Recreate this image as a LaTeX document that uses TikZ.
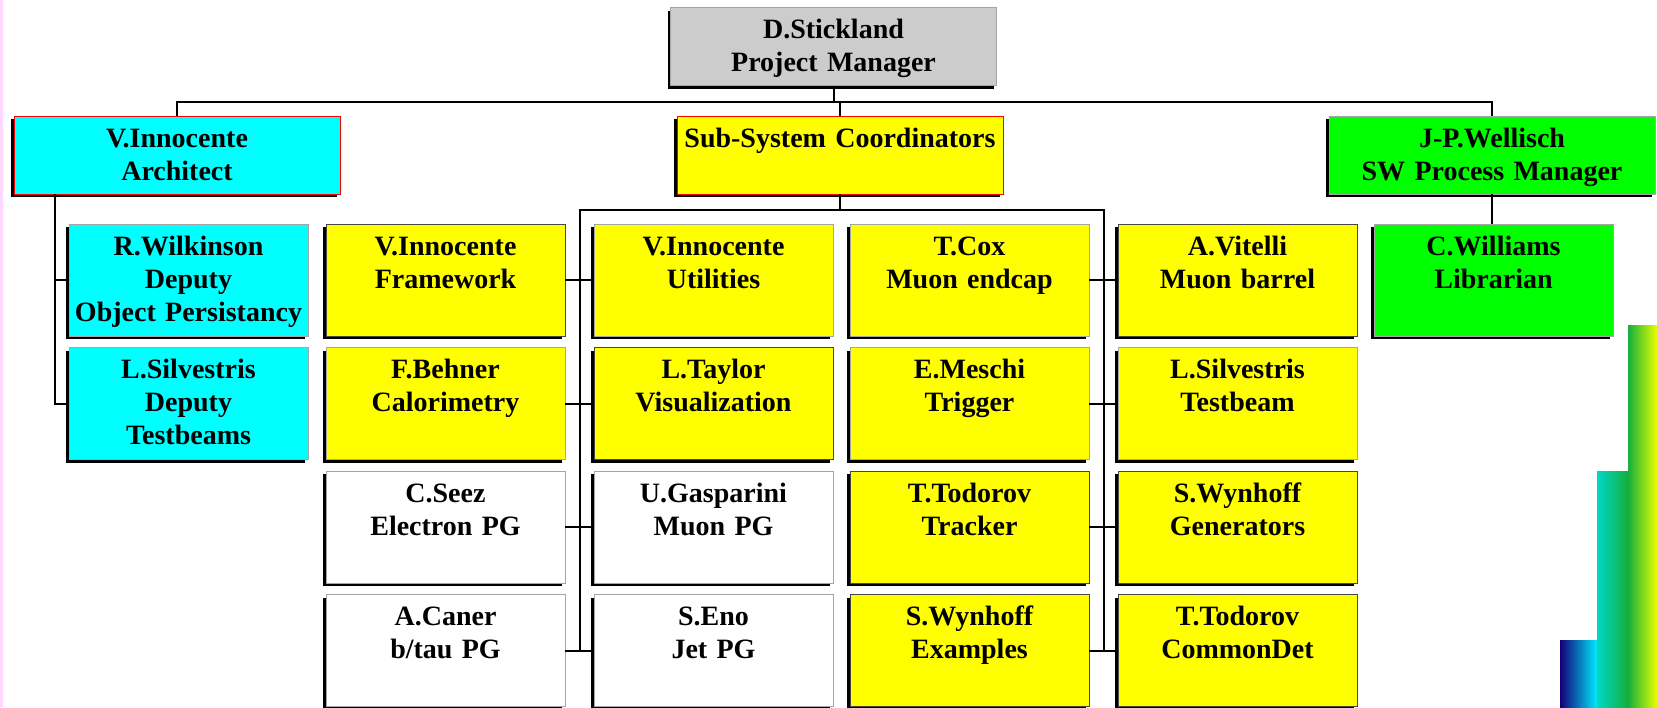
\documentclass[tikz,border=0pt]{standalone}
\usepackage{fontspec}
\setmainfont{Liberation Serif}
\usepackage{xcolor}
\usetikzlibrary{positioning, calc, shadows}
\definecolor{OrgCyan}{RGB}{0, 255, 255}
\definecolor{OrgYellow}{RGB}{255, 255, 0}
\definecolor{OrgGreen}{RGB}{0, 255, 0}
\definecolor{OrgGrey}{RGB}{204, 204, 204}
\definecolor{EdgeLight}{RGB}{165, 165, 165}
\definecolor{EdgeDark}{RGB}{70, 70, 70}
\definecolor{EdgeRed}{RGB}{255, 0, 0}
\definecolor{EdgePink}{RGB}{255, 215, 255}
\definecolor{BarNavy}{RGB}{20, 0, 120}
\definecolor{BarCyan}{RGB}{0, 235, 255}
\definecolor{BarTeal}{RGB}{0, 215, 200}
\definecolor{BarGreen}{RGB}{20, 175, 60}
\definecolor{BarYellow}{RGB}{235, 255, 0}

\begin{document}
\begin{tikzpicture}[
    x=1pt, y=-1pt,
    node distance=11.5pt and 29pt,
    font=\fontsize{28}{33}\selectfont\bfseries,
    % Styles - boxes carry a black shadow to the lower left
    head/.style={rectangle, draw=EdgeLight, line width=0.8pt, outer sep=0pt, fill=white, minimum width=326pt, text width=318pt, inner sep=4pt, text height=27pt, text depth=43pt, align=center, drop shadow={opacity=1, fill=black, shadow xshift=-3pt, shadow yshift=-3pt}},
    unit/.style={rectangle, draw=EdgeLight, line width=0.8pt, outer sep=0pt, fill=white, minimum width=239pt, text width=231pt, inner sep=4pt, text height=27pt, text depth=77pt, align=center, drop shadow={opacity=1, fill=black, shadow xshift=-3pt, shadow yshift=-3pt}},
    link/.style={line width=2pt, color=black}
]

\fill[white] (0,0) rectangle (1657,707);
\useasboundingbox (0,0) rectangle (1657,707);
\fill[EdgePink] (0,0) rectangle (3,707);

% ==========================================================================================
% MANAGEMENT (Top)
% ==========================================================================================

\node[head, fill=OrgGrey] (stickland) at (833.5,46.5) {D.Stickland\\Project Manager};
\node[head, fill=OrgCyan, draw=EdgeRed] (architect) at (177,155) {V.Innocente\\Architect};
\node[head, fill=OrgYellow, draw=EdgeRed] (coord) at (840,155) {Sub-System Coordinators};
\node[head, fill=OrgGreen] (wellisch) at (1492,155) {J-P.Wellisch\\SW Process Manager};

% ==========================================================================================
% SUB-SYSTEMS (Grid)
% ==========================================================================================

% Row 1
\node[unit, fill=OrgYellow, draw=EdgeDark] (frame) at (445.5,280) {V.Innocente\\Framework};
\node[unit, fill=OrgYellow, right=29pt of frame] (util) {V.Innocente\\Utilities};
\node[unit, fill=OrgYellow, right=17pt of util] (cox) {T.Cox\\Muon endcap};
\node[unit, fill=OrgYellow, draw=EdgeDark, right=29pt of cox] (vitelli) {A.Vitelli\\Muon barrel};
\node[unit, fill=OrgGreen, right=17pt of vitelli] (williams) {C.Williams\\Librarian};
\node[unit, fill=OrgCyan, left=18pt of frame] (wilkinson) {R.Wilkinson\\Deputy\\Object Persistancy};

% Row 2
\node[unit, fill=OrgYellow, below=of frame] (behner) {F.Behner\\Calorimetry};
\node[unit, fill=OrgYellow, draw=EdgeDark, below=of util] (taylor) {L.Taylor\\Visualization};
\node[unit, fill=OrgYellow, below=of cox] (meschi) {E.Meschi\\Trigger};
\node[unit, fill=OrgYellow, below=of vitelli] (silvtb) {L.Silvestris\\Testbeam};
\node[unit, fill=OrgCyan, below=of wilkinson] (silvdep) {L.Silvestris\\Deputy\\Testbeams};

% Row 3 - physics groups in white
\node[unit, below=of behner] (seez) {C.Seez\\Electron PG};
\node[unit, below=of taylor] (gasparini) {U.Gasparini\\Muon PG};
\node[unit, fill=OrgYellow, draw=EdgeDark, below=of meschi] (tracker) {T.Todorov\\Tracker};
\node[unit, fill=OrgYellow, draw=EdgeDark, below=of silvtb] (generators) {S.Wynhoff\\Generators};

% Row 4
\node[unit, below=of seez] (caner) {A.Caner\\b/tau PG};
\node[unit, below=of gasparini] (eno) {S.Eno\\Jet PG};
\node[unit, fill=OrgYellow, draw=EdgeDark, below=of tracker] (examples) {S.Wynhoff\\Examples};
\node[unit, fill=OrgYellow, draw=EdgeDark, below=of generators] (commondet) {T.Todorov\\CommonDet};

% ==========================================================================================
% CONNECTORS
% ==========================================================================================

% Top bar
\draw[link] (stickland.south) -- ++(0,16);
\draw[link] (architect.north) -- ++(0,-14) -| (wellisch.north);
\draw[link] (coord.north) -- ++(0,-14);

% Deputies of the architect
\coordinate (archbus) at ([xshift=-122pt]architect.south);
\draw[link] (archbus) |- (silvdep.west);
\draw[link] (archbus |- wilkinson.west) -- (wilkinson.west);

% Coordinator buses
\coordinate (leftbus) at ($(caner.east)!0.5!(eno.west)$);
\coordinate (rightbus) at ($(examples.east)!0.5!(commondet.west)$);
\draw[link] (coord.south) -- ++(0,16) -| (leftbus);
\draw[link] (coord.south) -- ++(0,16) -| (rightbus);
\foreach \a/\b in {frame/util, behner/taylor, seez/gasparini, caner/eno, cox/vitelli, meschi/silvtb, tracker/generators, examples/commondet}
    \draw[link] (\a) -- (\b);

% Librarian
\draw[link] (wellisch.south) -- (wellisch.south |- williams.north);

% Colour bars (bottom right)
\shade[left color=BarNavy, right color=BarCyan] (1560,640) rectangle (1597,707);
\shade[left color=BarTeal, right color=BarGreen] (1597,471) rectangle (1628,707);
\shade[left color=BarGreen, right color=BarYellow] (1628,325) rectangle (1657,707);

\end{tikzpicture}
\end{document}
